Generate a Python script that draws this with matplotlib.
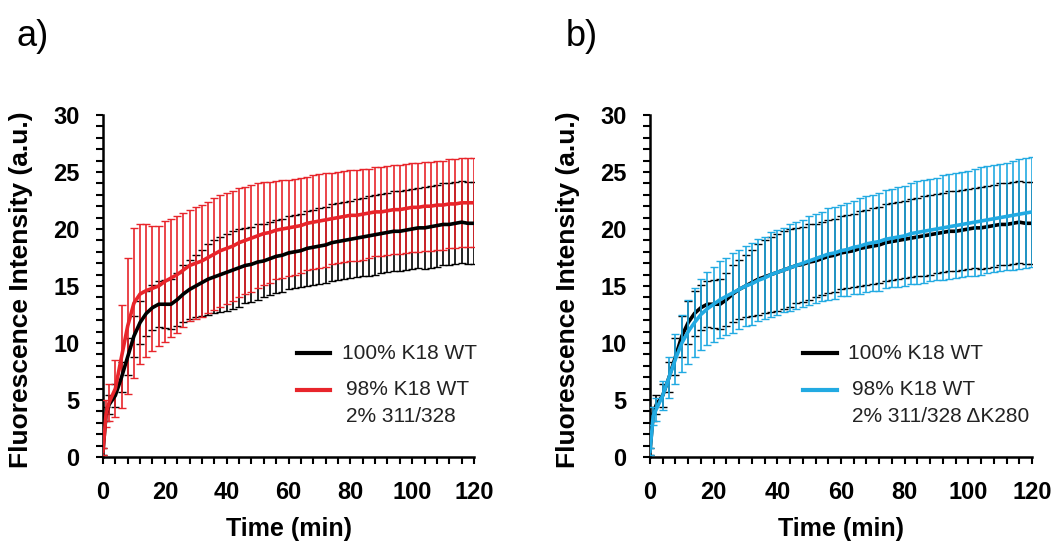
import matplotlib
matplotlib.use("Agg")
import matplotlib.pyplot as plt
from matplotlib.ticker import MultipleLocator

plt.rcParams['font.family'] = ['Liberation Sans', 'DejaVu Sans']

# time points (min)
time_min = [0, 1] + list(range(2, 121, 2))

# 100% K18 WT (same series in both panels)
wt_mean = [0.5, 3.8, 4.6, 5.4, 7.0, 8.8, 10.6, 11.8, 12.6, 13.1, 13.4, 13.4,
           13.4, 13.8, 14.3, 14.7, 15.0, 15.3, 15.6, 15.8, 16.0, 16.2,
           16.4, 16.6, 16.8, 16.9, 17.1, 17.2, 17.4, 17.6, 17.7, 17.9,
           18.0, 18.1, 18.3, 18.4, 18.5, 18.6, 18.8, 18.9, 19.0, 19.1,
           19.2, 19.3, 19.4, 19.5, 19.6, 19.7, 19.8, 19.8, 19.9, 20.0,
           20.1, 20.1, 20.2, 20.3, 20.4, 20.4, 20.5, 20.6, 20.5, 20.5]
wt_err = [0.3, 0.6, 0.8, 1.0, 1.3, 1.6, 1.8, 1.9, 2.0, 2.0, 2.0, 2.1,
          2.2, 2.3, 2.5, 2.6, 2.7, 2.9, 3.1, 3.2, 3.3, 3.4,
          3.4, 3.4, 3.3, 3.3, 3.3, 3.2, 3.2, 3.2, 3.2, 3.2,
          3.2, 3.2, 3.3, 3.3, 3.3, 3.3, 3.4, 3.4, 3.4, 3.4,
          3.4, 3.4, 3.5, 3.5, 3.5, 3.5, 3.5, 3.5, 3.5, 3.5,
          3.5, 3.6, 3.6, 3.6, 3.6, 3.6, 3.6, 3.6, 3.6, 3.6]

# 98% K18 WT + 2% 311/328
mix_mean = [0.5, 3.8, 4.8, 6.0, 8.8, 11.5, 13.5, 14.3, 14.6, 14.8, 15.0, 15.4,
            15.7, 16.0, 16.4, 16.8, 17.0, 17.2, 17.5, 17.8, 18.1, 18.3,
            18.5, 18.8, 19.0, 19.2, 19.4, 19.6, 19.7, 19.9, 20.0, 20.1,
            20.2, 20.3, 20.5, 20.6, 20.7, 20.8, 20.9, 21.0, 21.1, 21.2,
            21.2, 21.3, 21.4, 21.5, 21.5, 21.6, 21.7, 21.7, 21.8, 21.9,
            21.9, 22.0, 22.0, 22.1, 22.1, 22.2, 22.2, 22.3, 22.3, 22.3]
mix_err = [0.3, 1.2, 1.6, 2.5, 4.5, 6.0, 6.6, 6.1, 5.8, 5.5, 5.3, 5.3,
           5.2, 5.1, 5.0, 4.9, 4.9, 4.9, 4.9, 4.9, 4.9, 4.9,
           4.8, 4.8, 4.7, 4.7, 4.6, 4.5, 4.4, 4.3, 4.3, 4.2,
           4.2, 4.2, 4.1, 4.1, 4.1, 4.1, 4.0, 4.0, 4.0, 4.0,
           4.0, 4.0, 3.9, 3.9, 3.9, 3.9, 3.9, 3.9, 3.9, 3.9,
           3.9, 3.9, 3.9, 3.9, 3.9, 3.9, 3.9, 3.9, 3.9, 3.9]

# 98% K18 WT + 2% 311/328 dK280
dk_mean = [0.5, 3.6, 4.2, 5.4, 7.0, 8.6, 10.0, 11.0, 11.8, 12.5, 13.0, 13.4,
           13.8, 14.1, 14.4, 14.7, 15.0, 15.2, 15.5, 15.7, 16.0, 16.2,
           16.4, 16.6, 16.8, 17.0, 17.2, 17.4, 17.6, 17.8, 17.9, 18.1,
           18.2, 18.4, 18.5, 18.7, 18.8, 18.9, 19.1, 19.2, 19.3, 19.4,
           19.6, 19.7, 19.8, 19.9, 20.0, 20.1, 20.2, 20.3, 20.4, 20.5,
           20.6, 20.7, 20.8, 20.9, 21.0, 21.1, 21.2, 21.3, 21.4, 21.5]
dk_err = [0.3, 0.8, 1.0, 1.3, 1.8, 2.2, 2.5, 2.8, 3.0, 3.1, 3.2, 3.3,
          3.4, 3.4, 3.5, 3.5, 3.5, 3.6, 3.6, 3.6, 3.7, 3.7,
          3.7, 3.8, 3.8, 3.8, 3.9, 3.9, 3.9, 4.0, 4.0, 4.0,
          4.1, 4.1, 4.2, 4.2, 4.2, 4.3, 4.3, 4.3, 4.4, 4.4,
          4.4, 4.5, 4.5, 4.5, 4.5, 4.6, 4.6, 4.6, 4.6, 4.6,
          4.7, 4.7, 4.7, 4.7, 4.7, 4.7, 4.8, 4.8, 4.8, 4.8]

RED = '#E8252B'
BLUE = '#22AAE2'

W, H = 1055, 544
fig = plt.figure(figsize=(W / 100, H / 100), dpi=100)
ax_a = fig.add_axes([103 / W, 1 - 457 / H, 371 / W, 342 / H])
ax_b = fig.add_axes([650 / W, 1 - 457 / H, 382 / W, 342 / H])


def style(ax):
    ax.set_xlim(0, 120)
    ax.set_ylim(0, 30)
    ax.xaxis.set_major_locator(MultipleLocator(20))
    ax.xaxis.set_minor_locator(MultipleLocator(4))
    ax.yaxis.set_major_locator(MultipleLocator(5))
    ax.yaxis.set_minor_locator(MultipleLocator(1))
    for s in ['top', 'right']:
        ax.spines[s].set_visible(False)
    for s in ['left', 'bottom']:
        ax.spines[s].set_linewidth(1.8)
    ax.tick_params(which='both', direction='out', length=5, width=1.5,
                   pad=12, labelsize=17)
    for lab in ax.get_xticklabels() + ax.get_yticklabels():
        lab.set_fontweight('bold')
    ax.set_xlabel('Time (min)', fontsize=18, fontweight='bold')
    ax.set_ylabel('Fluorescence Intensity (a.u.)', fontsize=19, fontweight='bold')
    ax.xaxis.set_label_coords(0.5, -0.175)


def series(ax, mean, err, color, z):
    ax.errorbar(time_min, mean, yerr=err, fmt='none', ecolor=color,
                elinewidth=1.2, capsize=3, capthick=1.0, zorder=z)


def legend_entry(ax, x0, x1, xt, y, color, lines):
    ax.plot([x0, x1], [y, y], color=color, lw=3, transform=ax.transAxes,
            clip_on=False)
    for i, txt in enumerate(lines):
        ax.text(xt, y - i * 27 / 342, txt, transform=ax.transAxes,
                fontsize=15, va='center', ha='left', color='#222222')


# panel a
series(ax_a, wt_mean, wt_err, 'black', 2)
series(ax_a, mix_mean, mix_err, RED, 3)
ax_a.plot(time_min, wt_mean, color='black', lw=2.6, zorder=4)
ax_a.plot(time_min, mix_mean, color=RED, lw=2.6, zorder=5)
style(ax_a)
ax_a.yaxis.set_label_coords(-0.19, 0.49)
legend_entry(ax_a, 0.523, 0.612, 0.644, 0.304, 'black', ['100% K18 WT'])
legend_entry(ax_a, 0.523, 0.612, 0.656, 0.196, RED,
             ['98% K18 WT', '2% 311/328'])

# panel b
series(ax_b, wt_mean, wt_err, 'black', 2)
ax_b.plot(time_min, wt_mean, color='black', lw=2.6, zorder=3)
series(ax_b, dk_mean, dk_err, BLUE, 4)
ax_b.plot(time_min, dk_mean, color=BLUE, lw=2.6, zorder=5)
style(ax_b)
ax_b.yaxis.set_label_coords(-0.183, 0.49)
legend_entry(ax_b, 0.4005, 0.4895, 0.518, 0.304, 'black', ['100% K18 WT'])
legend_entry(ax_b, 0.4005, 0.4895, 0.528, 0.196, BLUE,
             ['98% K18 WT', '2% 311/328 \u0394K280'])

fig.text(17 / W, 1 - 37 / H, 'a)', fontsize=26, va='center', ha='left')
fig.text(566 / W, 1 - 37 / H, 'b)', fontsize=26, va='center', ha='left')

fig.savefig('out.png', dpi=100)
